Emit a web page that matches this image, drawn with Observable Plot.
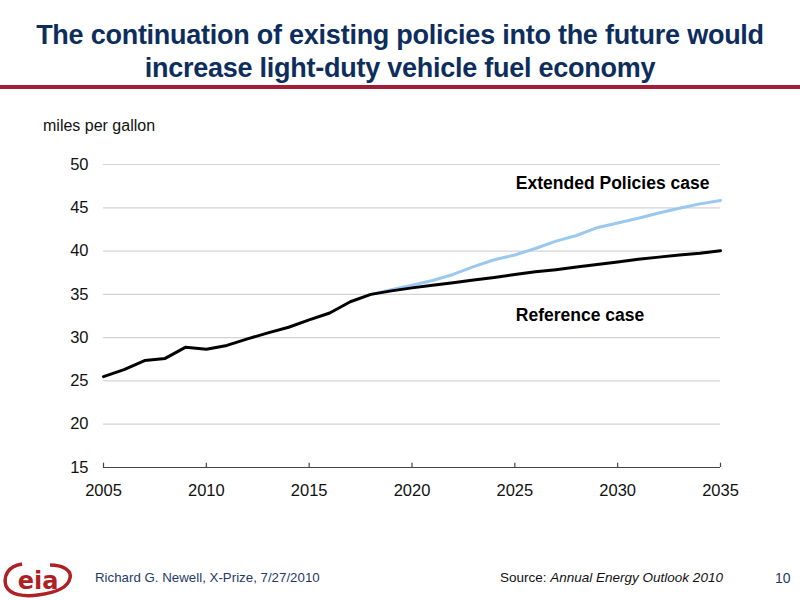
<!DOCTYPE html>
<html>
<head>
<meta charset="utf-8">
<script src="https://cdn.jsdelivr.net/npm/d3@7"></script>
<script src="https://cdn.jsdelivr.net/npm/@observablehq/plot@0.6"></script>
<style>
  html, body { margin: 0; padding: 0; background: #fff; }
  #page { position: relative; width: 800px; height: 600px; overflow: hidden; font-family: "Liberation Sans", Arial, sans-serif; }
  #title { position: absolute; left: 0; top: 19px; width: 800px; text-align: center; font-family: "Liberation Sans", Arial, sans-serif; font-weight: bold; font-size: 27px; letter-spacing: -0.25px; line-height: 33px; color: #0d2e5c; }
  #rule { position: absolute; left: 0; top: 85px; width: 800px; height: 4px; background: #a11c35; }
  #ylabel { position: absolute; left: 43px; top: 117px; font-size: 16px; color: #111; }
  #chart { position: absolute; left: 0; top: 140px; }
  #footer-left { position: absolute; left: 95px; top: 570px; font-size: 13.3px; color: #1f3a68; }
  #footer-src { position: absolute; left: 500px; top: 570px; font-size: 13.5px; color: #111; }
  #footer-page { position: absolute; left: 775px; top: 570px; font-size: 14px; color: #1f3a68; }
  #logo { position: absolute; left: 2px; top: 560px; }
</style>
</head>
<body>
<div id="page">
  <div id="title">The continuation of existing policies into the future would<br>increase light-duty vehicle fuel economy</div>
  <div id="rule"></div>
  <div id="ylabel">miles per gallon</div>
  <div id="chart"></div>
  <svg id="logo" width="72" height="38" viewBox="0 0 72 38">
    <path d="M 20 4 C 6 6, 1 16, 4 26 C 8 35, 22 37, 36 35 C 52 33, 66 28, 68 18 C 70 10, 60 5, 48 5" fill="none" stroke="#b01f24" stroke-width="3.5"/>
    <text x="36" y="29" text-anchor="middle" font-family="'DejaVu Sans', sans-serif" font-weight="bold" font-size="24" fill="#b01f24">eia</text>
  </svg>
  <div id="footer-left">Richard G. Newell, X-Prize, 7/27/2010</div>
  <div id="footer-src">Source: <i>Annual Energy Outlook 2010</i></div>
  <div id="footer-page">10</div>
</div>
<script>
const refYears = [2005,2006,2007,2008,2009,2010,2011,2012,2013,2014,2015,2016,2017,2018,2019,2020,2021,2022,2023,2024,2025,2026,2027,2028,2029,2030,2031,2032,2033,2034,2035];
const referenceCase = [25.5,26.3,27.35,27.6,28.9,28.65,29.1,29.85,30.55,31.2,32.05,32.85,34.15,35.0,35.4,35.75,36.05,36.35,36.65,36.95,37.3,37.6,37.85,38.15,38.45,38.75,39.05,39.3,39.55,39.75,40.05];
const extYears = [2018,2019,2020,2021,2022,2023,2024,2025,2026,2027,2028,2029,2030,2031,2032,2033,2034,2035];
const extendedCase = [35.0,35.55,36.05,36.6,37.3,38.2,39.0,39.55,40.3,41.15,41.8,42.7,43.25,43.8,44.4,44.95,45.45,45.85];
const xTicks = [2005,2010,2015,2020,2025,2030,2035];
const yTicks = [15,20,25,30,35,40,45,50];
const labelExtended = "Extended Policies case";
const labelReference = "Reference case";

const refData = refYears.map((y, i) => ({year: y, mpg: referenceCase[i]}));
const extData = extYears.map((y, i) => ({year: y, mpg: extendedCase[i]}));

const chart = Plot.plot({
  width: 800,
  height: 367,
  marginLeft: 103,
  marginRight: 80,
  marginTop: 24,
  marginBottom: 40,
  style: {fontFamily: "'Liberation Sans', Arial, sans-serif", fontSize: "16px", color: "#111", background: "#fff"},
  x: {domain: [2005, 2035]},
  y: {domain: [15, 50]},
  marks: [
    Plot.ruleY(yTicks.filter(d => d > 15), {stroke: "#d4d4d4", strokeWidth: 1.2}),
    Plot.axisY({ticks: yTicks, tickSize: 0, tickPadding: 15, fontSize: 16.5, label: null}),
    Plot.axisX({ticks: xTicks, tickSize: 0, tickPadding: 17, fontSize: 16.5, tickFormat: d => String(d), label: null}),
    Plot.ruleX(xTicks, {y1: 15, y2: 15.5, stroke: "#444", strokeWidth: 1.2}),
    Plot.ruleY([15], {stroke: "#444", strokeWidth: 1.2}),
    Plot.line(extData, {x: "year", y: "mpg", stroke: "#9bc8ef", strokeWidth: 3}),
    Plot.line(refData, {x: "year", y: "mpg", stroke: "#000", strokeWidth: 3}),
    Plot.text([labelExtended], {x: () => 2025.05, y: () => 47.8, text: d => d, textAnchor: "start", fontWeight: "bold", fontSize: 17.5, fill: "#000"}),
    Plot.text([labelReference], {x: () => 2025.05, y: () => 32.55, text: d => d, textAnchor: "start", fontWeight: "bold", fontSize: 17.5, fill: "#000"})
  ]
});
document.getElementById("chart").appendChild(chart);
</script>
</body>
</html>
